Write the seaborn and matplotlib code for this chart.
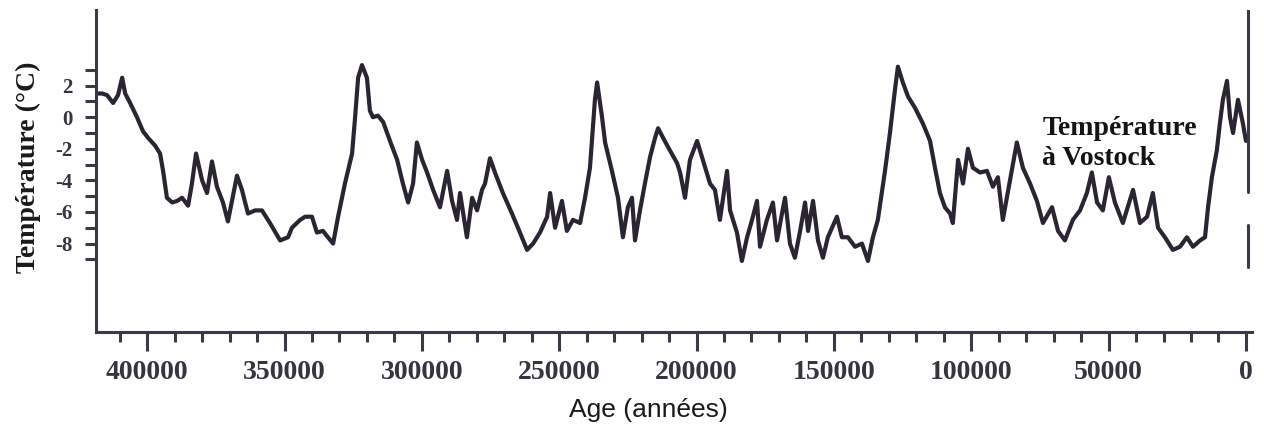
import numpy as np
import pandas as pd
import matplotlib
matplotlib.use("Agg")
import matplotlib.pyplot as plt
import seaborn as sns

# Vostok ice core temperature
age = [418200, 416400, 414600, 412400, 410600, 409100, 408000, 406200, 403700, 401500,
       399700, 397100, 395300, 394200, 392800, 390900, 389100, 387300, 385100, 383700,
       382200, 380000, 378200, 376400, 374600, 372400, 370600, 367300, 365500, 363300,
       360700, 358200, 355300, 351600, 348700, 347300, 344300, 342500, 340000, 338200,
       336000, 334200, 332300, 330500, 328000, 325400, 324300, 323200, 321800, 320000,
       318900, 317800, 316000, 314100, 311600, 309000, 306900, 305000, 303200, 301800,
       299900, 298100, 295900, 293400, 290800, 289000, 287200, 286100, 283600, 281700,
       279900, 278100, 277000, 275200, 273400, 270500, 267200, 264300, 261700, 259500,
       257000, 254400, 253300, 251500, 249000, 247200, 245000, 242400, 240600, 238800,
       237000, 236200, 234400, 233300, 230800, 228600, 226800, 225000, 223500, 222400,
       220600, 218800, 216900, 215100, 214000, 212200, 209700, 207100, 206000, 204200,
       202400, 199800, 197700, 195100, 193300, 191500, 188900, 187800, 185300, 183500,
       181600, 179800, 178000, 176900, 174400, 172200, 170700, 168900, 167800, 166000,
       164200, 162300, 160500, 159400, 157600, 155800, 154000, 152200, 148900, 147100,
       144900, 142300, 139800, 137600, 135800, 134000, 131400, 129600, 127800, 126700,
       124900, 123000, 120500, 117600, 115000, 113200, 111400, 109600, 107700, 106700,
       104800, 103000, 101200, 99400, 96800, 94300, 92100, 90300, 88500, 85900,
       83400, 81200, 78600, 76100, 73900, 70600, 68400, 65900, 63000, 60400,
       57900, 56100, 54200, 52100, 49900, 47700, 44800, 41100, 38600, 36000,
       33900, 32000, 29500, 26600, 24000, 21500, 19300, 16700, 14900, 13800,
       12400, 10600, 9500, 8400, 6900, 5800, 4700, 2900, 1100, 0]
temp = [1.5, 1.5, 1.4, 0.9, 1.4, 2.5, 1.5, 0.9, 0.0, -0.9,
        -1.3, -1.8, -2.3, -3.4, -5.1, -5.4, -5.3, -5.1, -5.6, -4.2,
        -2.3, -4.0, -4.8, -2.8, -4.4, -5.4, -6.6, -3.7, -4.6, -6.1,
        -5.9, -5.9, -6.7, -7.8, -7.6, -7.0, -6.5, -6.3, -6.3, -7.3,
        -7.2, -7.6, -8.0, -6.3, -4.2, -2.3, 0.0, 2.5, 3.3, 2.5,
        0.4, 0.0, 0.1, -0.3, -1.5, -2.7, -4.2, -5.4, -4.2, -1.6,
        -2.7, -3.5, -4.6, -5.7, -3.4, -5.3, -6.5, -4.8, -7.6, -5.1,
        -5.9, -4.6, -4.2, -2.6, -3.5, -4.8, -6.1, -7.3, -8.4, -8.0,
        -7.3, -6.3, -4.8, -7.0, -5.3, -7.2, -6.5, -6.7, -5.1, -3.2,
        1.1, 2.2, 0.0, -1.6, -3.4, -5.1, -7.6, -5.7, -5.1, -7.8,
        -5.9, -4.2, -2.5, -1.3, -0.7, -1.3, -2.1, -2.9, -3.5, -5.1,
        -2.7, -1.5, -2.7, -4.2, -4.6, -6.5, -3.4, -5.9, -7.3, -9.1,
        -7.6, -6.5, -5.3, -8.2, -6.5, -5.4, -7.8, -6.1, -5.1, -8.0,
        -8.9, -7.2, -5.4, -7.2, -5.3, -7.8, -8.9, -7.6, -6.3, -7.6,
        -7.6, -8.2, -8.0, -9.1, -7.6, -6.5, -3.4, -1.0, 1.7, 3.2,
        2.2, 1.3, 0.6, -0.4, -1.5, -3.2, -4.8, -5.7, -6.1, -6.7,
        -2.7, -4.2, -2.0, -3.2, -3.5, -3.4, -4.4, -3.8, -6.5, -4.0,
        -1.6, -3.2, -4.2, -5.3, -6.7, -5.7, -7.2, -7.8, -6.5, -5.9,
        -4.8, -3.5, -5.4, -5.9, -3.8, -5.4, -6.7, -4.6, -6.7, -6.3,
        -4.8, -7.0, -7.6, -8.4, -8.2, -7.6, -8.2, -7.8, -7.6, -5.7,
        -3.8, -2.1, -0.4, 1.1, 2.3, 0.0, -1.0, 1.1, -0.4, -1.5]

x_major = [400000, 350000, 300000, 250000, 200000, 150000, 100000, 50000, 0]
x_minor = list(range(0, 410001, 10000))
y_ticks = list(range(-9, 4))
y_labels = ["", "-8", "", "-6", "", "-4", "", "-2", "", "0", "", "2", ""]

df = pd.DataFrame({"age": age, "temp": temp})

sns.set_style("white")
plt.rcParams["font.family"] = ["Liberation Serif", "DejaVu Serif"]

ink = "#2a2433"
axc = "#3a3a46"

fig = plt.figure(figsize=(12.64, 4.36), dpi=100)
ax = fig.add_axes([0.076, 0.2385, 0.9145, 0.739])

sns.lineplot(data=df, x="age", y="temp", estimator=None, sort=False,
             color=ink, linewidth=3, ax=ax)

ax.set_xlim(418600, -2200)
ax.set_ylim(-13.6, 6.8)

sns.despine(ax=ax, top=True, right=True)
for s in ["left", "bottom"]:
    ax.spines[s].set_color(axc)
    ax.spines[s].set_linewidth(2.2)

# broken zero line on the right, as in the scan
ax.axvline(-700, ymin=0.435, ymax=1.0, color=axc, lw=2.2)
ax.axvline(-700, ymin=0.202, ymax=0.332, color=axc, lw=2.2)

ax.set_xticks(x_major)
ax.set_xticklabels([str(v) for v in x_major])
ax.set_xticks(x_minor, minor=True)
ax.tick_params(axis="x", which="both", bottom=True, top=False)
ax.tick_params(axis="x", which="major", direction="out", length=14, width=2.2,
               color=axc, pad=6, labelsize=20, labelcolor="#35353f")
ax.tick_params(axis="x", which="minor", direction="out", length=7, width=2.2, color=axc)
for lab in ax.get_xticklabels():
    lab.set_fontweight("bold")

ax.set_yticks(y_ticks)
ax.set_yticklabels(y_labels)
ax.tick_params(axis="y", which="major", left=True, right=False, direction="out",
               length=8, width=2.2, color=axc, pad=9, labelsize=15, labelcolor="#35353f")
for lab in ax.get_yticklabels():
    lab.set_fontweight("bold")

ax.set_xlabel("Age (années)", fontsize=19, family=["Liberation Sans", "DejaVu Sans"],
              color="#1a1a1a")
ax.xaxis.set_label_coords(0.4775, -0.205)
ax.set_ylabel("Température (°C)", fontsize=20, fontweight="bold", color="#1a1a1a")
ax.yaxis.set_label_coords(-0.048, 0.51)

ax.text(73900, -1.14, "Température", fontsize=20, fontweight="bold",
        color="#141414", va="baseline", ha="left")
ax.text(74200, -3.04, "à Vostock", fontsize=20, fontweight="bold",
        color="#141414", va="baseline", ha="left")

fig.savefig("out.png", dpi=100)
